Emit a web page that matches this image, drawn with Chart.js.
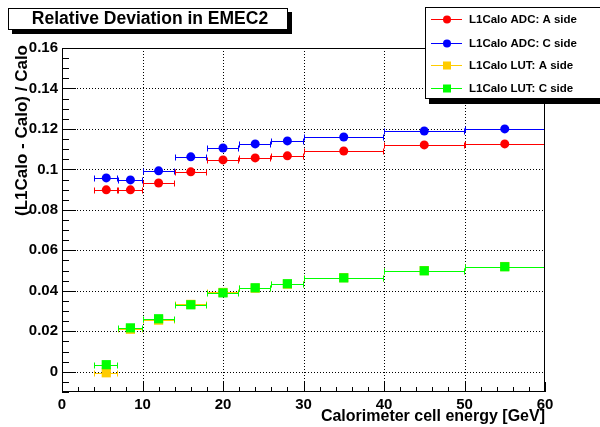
<!DOCTYPE html>
<html lang="en">
<head>
<meta charset="UTF-8">
<title>Relative Deviation in EMEC2</title>
<script src="https://cdn.jsdelivr.net/npm/chart.js"></script>
<style>
    body { margin: 0; background: #fff; }
</style>
</head>
<body>
<canvas id="devChart" width="600" height="427"></canvas>
<script>
// bin centres and edges (GeV)
const energy  = [5.5, 8.5, 12, 16, 20, 24, 28, 35, 45, 55];
const binLow  = [4, 7, 10, 14, 18, 22, 26, 30, 40, 50];
const binHigh = [7, 10, 14, 18, 22, 26, 30, 40, 50, 60];

// relative deviation (L1Calo - Calo) / Calo
const adcA = [0.0899, 0.0899, 0.0933, 0.0988, 0.1047, 0.1057, 0.1067, 0.1091, 0.1121, 0.1126];
const adcC = [0.0958, 0.0948, 0.0993, 0.1062, 0.1106, 0.1126, 0.1141, 0.1160, 0.1190, 0.1200];
const lutA = [-0.0005, 0.0210, 0.0255, 0.0333, 0.0392, 0.0413, 0.0433, 0.0465, 0.0500, 0.0520];
const lutC = [0.0035, 0.0217, 0.0262, 0.0331, 0.0390, 0.0415, 0.0435, 0.0464, 0.0499, 0.0519];

const xTicks = [0, 10, 20, 30, 40, 50, 60];
const yTicks = [0, 0.02, 0.04, 0.06, 0.08, 0.1, 0.12, 0.14, 0.16];
const xMinorStep = 2;
const yMinorStep = 0.005;

const FONT = '"Liberation Sans", Arial, Helvetica, sans-serif';

function pts(vals) {
    return energy.map((e, i) => ({ x: e, y: vals[i] }));
}

const series = [
    { label: 'L1Calo ADC: A side', data: adcA, color: '#ff0000', shape: 'circle' },
    { label: 'L1Calo ADC: C side', data: adcC, color: '#0000ff', shape: 'circle' },
    { label: 'L1Calo LUT: A side', data: lutA, color: '#ffcc00', shape: 'rect' },
    { label: 'L1Calo LUT: C side', data: lutC, color: '#00ff00', shape: 'rect' }
];

// ROOT-like frame, dotted grid, inward ticks, titles and legend
const rootStyle = {
    id: 'rootStyle',
    beforeDatasetsDraw(chart) {
        const { ctx, chartArea: a, scales: { x, y } } = chart;
        ctx.save();
        ctx.strokeStyle = '#000';
        ctx.lineWidth = 1;
        ctx.setLineDash([1, 2]);
        ctx.beginPath();
        xTicks.forEach(v => {
            if (v <= x.min || v >= x.max) return;
            const px = Math.round(x.getPixelForValue(v)) + 0.5;
            ctx.moveTo(px, a.top); ctx.lineTo(px, a.bottom);
        });
        yTicks.forEach(v => {
            if (v <= y.min || v >= y.max) return;
            const py = Math.round(y.getPixelForValue(v)) + 0.5;
            ctx.moveTo(a.left, py); ctx.lineTo(a.right, py);
        });
        ctx.stroke();
        ctx.restore();
    },
    beforeDatasetDraw(chart, args) {
        const { ctx, scales: { x, y } } = chart;
        const s = series[args.index];
        ctx.save();
        ctx.strokeStyle = s.color;
        ctx.lineWidth = 1;
        ctx.beginPath();
        s.data.forEach((v, i) => {
            const py = Math.round(y.getPixelForValue(v)) + 0.5;
            const xl = Math.round(x.getPixelForValue(binLow[i])) + 0.5;
            const xh = Math.round(x.getPixelForValue(binHigh[i])) - 0.5;
            ctx.moveTo(xl, py); ctx.lineTo(xh, py);
            ctx.moveTo(xl, py - 3); ctx.lineTo(xl, py + 3);
            ctx.moveTo(xh, py - 3); ctx.lineTo(xh, py + 3);
        });
        ctx.stroke();
        ctx.restore();
    },
    afterDraw(chart) {
        const { ctx, chartArea: a, scales: { x, y } } = chart;
        ctx.save();

        // frame
        ctx.strokeStyle = '#000';
        ctx.lineWidth = 1;
        ctx.strokeRect(a.left + 0.5, a.top + 0.5, a.right - a.left - 1, a.bottom - a.top - 1);

        // tick marks pointing into the frame
        ctx.beginPath();
        for (let v = x.min; v <= x.max + 1e-9; v += xMinorStep) {
            const px = Math.round(x.getPixelForValue(v)) + 0.5;
            const len = Math.abs(v % 10) < 1e-9 ? 10 : 5;
            ctx.moveTo(px, a.bottom); ctx.lineTo(px, a.bottom - len);
        }
        for (let k = Math.ceil(y.min / yMinorStep); k * yMinorStep <= y.max + 1e-9; k++) {
            const v = k * yMinorStep;
            const py = Math.round(y.getPixelForValue(v)) + 0.5;
            const len = k % 4 === 0 ? 14 : 7;
            ctx.moveTo(a.left, py); ctx.lineTo(a.left + len, py);
        }
        ctx.stroke();

        // title box
        ctx.fillStyle = '#000';
        ctx.fillRect(12, 12, 280, 22);
        ctx.fillStyle = '#fff';
        ctx.fillRect(8, 8, 280, 22);
        ctx.strokeRect(8.5, 8.5, 279, 21);
        ctx.fillStyle = '#000';
        ctx.font = 'bold 17.5px ' + FONT;
        ctx.textAlign = 'center';
        ctx.textBaseline = 'middle';
        ctx.fillText('Relative Deviation in EMEC2', 150, 19.5);

        // axis titles
        ctx.font = 'bold 16px ' + FONT;
        ctx.textAlign = 'right';
        ctx.fillText('Calorimeter cell energy [GeV]', a.right, 417);
        ctx.save();
        ctx.font = 'bold 17px ' + FONT;
        ctx.translate(22, 45);
        ctx.rotate(-Math.PI / 2);
        ctx.fillText('(L1Calo - Calo) / Calo', 0, 0);
        ctx.restore();

        // legend
        ctx.fillStyle = '#000';
        ctx.fillRect(429, 11, 175, 93);
        ctx.fillStyle = '#fff';
        ctx.fillRect(425, 7, 175, 92);
        ctx.strokeRect(425.5, 7.5, 175, 91);
        const rows = [19, 43, 65, 88];
        ctx.font = 'bold 11.5px ' + FONT;
        ctx.textAlign = 'left';
        series.forEach((s, i) => {
            const ry = rows[i] + 0.5;
            ctx.strokeStyle = s.color;
            ctx.beginPath();
            ctx.moveTo(431, ry); ctx.lineTo(462, ry);
            ctx.stroke();
            ctx.fillStyle = s.color;
            if (s.shape === 'circle') {
                ctx.beginPath();
                ctx.arc(447, ry, 4, 0, Math.PI * 2);
                ctx.fill();
            } else {
                ctx.fillRect(443, ry - 4, 8, 8);
            }
            ctx.fillStyle = '#000';
            ctx.fillText(s.label, 469, ry);
        });

        ctx.restore();
    }
};

new Chart(document.getElementById('devChart').getContext('2d'), {
    type: 'scatter',
    data: {
        datasets: series.map((s, i) => ({
            label: s.label,
            data: pts(s.data),
            order: series.length - i,
            pointStyle: s.shape,
            pointRadius: s.shape === 'circle' ? 4.5 : 6.5,
            pointHoverRadius: s.shape === 'circle' ? 4.5 : 6.5,
            pointBackgroundColor: s.color,
            pointBorderColor: s.color,
            pointBorderWidth: 0,
            showLine: false
        }))
    },
    options: {
        responsive: false,
        animation: false,
        layout: { padding: { top: 48, right: 55, left: 0, bottom: 0 } },
        plugins: {
            legend: { display: false },
            tooltip: { enabled: false },
            title: { display: false }
        },
        scales: {
            x: {
                type: 'linear',
                min: 0,
                max: 60,
                afterFit: s => { s.height = 35; },
                afterBuildTicks: s => { s.ticks = xTicks.map(v => ({ value: v })); },
                grid: { display: false, drawTicks: false },
                border: { display: false },
                ticks: {
                    padding: 4,
                    color: '#000',
                    font: { family: FONT, size: 15, weight: 'bold' },
                    maxRotation: 0,
                    callback: v => String(v)
                }
            },
            y: {
                type: 'linear',
                min: -0.01,
                max: 0.16,
                afterFit: s => { s.width = 62; },
                afterBuildTicks: s => { s.ticks = yTicks.map(v => ({ value: v })); },
                grid: { display: false, drawTicks: false },
                border: { display: false },
                ticks: {
                    padding: 4,
                    color: '#000',
                    font: { family: FONT, size: 15, weight: 'bold' },
                    callback: v => String(+v.toFixed(2))
                }
            }
        }
    },
    plugins: [rootStyle]
});
</script>
</body>
</html>
